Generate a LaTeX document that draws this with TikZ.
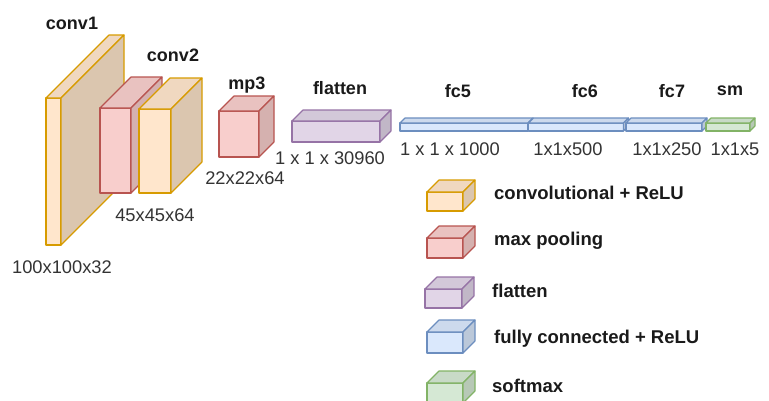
\documentclass[tikz,border=0pt]{standalone}
\usepackage{fontspec}
\setmainfont{Liberation Sans}
\usepackage{tikz}
\usetikzlibrary{calc}
\usetikzlibrary{positioning}

\definecolor{orangefill}{HTML}{FFE6CC}
\definecolor{orangeline}{HTML}{D79B00}
\definecolor{redfill}{HTML}{F8CECC}
\definecolor{redline}{HTML}{B85450}
\definecolor{purplefill}{HTML}{E1D5E7}
\definecolor{purpleline}{HTML}{9673A6}
\definecolor{bluefill}{HTML}{DAE8FC}
\definecolor{blueline}{HTML}{6C8EBF}
\definecolor{greenfill}{HTML}{D5E8D4}
\definecolor{greenline}{HTML}{82B366}
\definecolor{labeltext}{HTML}{1A1A1A}
\definecolor{dimtext}{HTML}{333333}

\tikzset{
  layer/.style={rectangle, inner sep=0pt, outer sep=0pt, line width=1.1pt, line join=round},
  layername/.style={font=\fontsize{18}{20}\selectfont\bfseries, text=labeltext},
  layerdim/.style={font=\fontsize{18.3}{20}\selectfont, text=dimtext},
  legendtext/.style={font=\fontsize{18.5}{20}\selectfont\bfseries, text=labeltext, anchor=base west, inner sep=0pt}
}

% name, x, y, width, height, depth, colour
\newcommand{\layerbox}[7]{
  \node[layer, draw=#7line, fill=#7fill, minimum width=#4, minimum height=#5] (#1) at (#2,#3) {};
  \filldraw[layer, draw=#7line, fill=#7fill!94!black] (#1.north west) -- ++(#6,-#6) -- ++(#4,0) -- (#1.north east) -- cycle;
  \filldraw[layer, draw=#7line, fill=#7fill!86!black] (#1.north east) -- ++(#6,-#6) -- ++(0,#5) -- (#1.south east) -- cycle;
}

\begin{document}
\begin{tikzpicture}[x=1pt, y=-1pt]
\useasboundingbox (0,0) rectangle (769,400);

\layerbox{conv1}{53.5}{171.5}{15}{147}{63}{orange}
\layerbox{pool2}{115.5}{150.5}{31}{85}{31}{red}
\layerbox{conv2}{155}{151}{32}{84}{31}{orange}
\layerbox{mp3}{239}{134}{40}{46}{15}{red}
\layerbox{flatten}{336}{131.5}{88}{21}{11}{purple}
\layerbox{fc5}{464}{127}{128}{8}{5}{blue}
\layerbox{fc6}{576}{127}{95}{8}{5}{blue}
\layerbox{fc7}{664}{127}{76}{8}{5}{blue}
\layerbox{sm}{728}{127}{44}{8}{5}{green}

\node[layername] (conv1name)   at (72,23)  {conv1};
\node[layername] (conv2name)   at (173,55) {conv2};
\node[layername] (mp3name)     at (247,85) {mp3};
\node[layername] (flattenname) at (340,88) {flatten};
\node[layername] (fc5name)     at (458,91) {fc5};
\node[layername] (fc6name)     at (585,91) {fc6};
\node[layername] (fc7name)     at (672,91) {fc7};
\node[layername] (smname)      at (730,91) {sm};

\node[layerdim] (conv1dim)   at (62,267)  {100x100x32};
\node[layerdim] (conv2dim)   at (155,215) {45x45x64};
\node[layerdim] (mp3dim)     at (245,178) {22x22x64};
\node[layerdim] (flattendim) at (330,158) {1 x 1 x 30960};
\node[layerdim] (fc5dim)     at (450,149) {1 x 1 x 1000};
\node[layerdim] (fc6dim)     at (568,149) {1x1x500};
\node[layerdim] (fc7dim)     at (667,149) {1x1x250};
\node[layerdim] (smdim)      at (735,149) {1x1x5};

% legend
\layerbox{keyconv}{445}{201.5}{36}{19}{12}{orange}
\layerbox{keypool}{445}{248}{36}{20}{12}{red}
\layerbox{keyflat}{443.5}{298.5}{37}{19}{12}{purple}
\layerbox{keyfc}{445}{342.5}{36}{21}{12}{blue}
\layerbox{keysm}{445}{393}{36}{20}{12}{green}

\node[legendtext] (keyconvtext) at (494,199) {convolutional + ReLU};
\node[legendtext] (keypooltext) at (494,245) {max pooling};
\node[legendtext] (keyflattext) at (492,297) {flatten};
\node[legendtext] (keyfctext)   at (494,343) {fully connected + ReLU};
\node[legendtext] (keysmtext)   at (492,392) {softmax};
\end{tikzpicture}
\end{document}
